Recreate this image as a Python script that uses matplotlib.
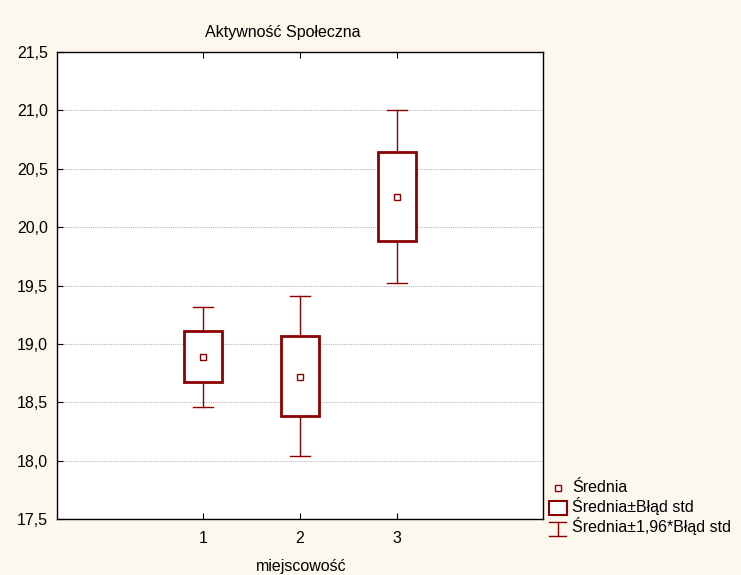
import matplotlib
matplotlib.use("Agg")
import matplotlib.pyplot as plt
from matplotlib.patches import Rectangle
from matplotlib.lines import Line2D
from matplotlib.legend_handler import HandlerBase

categories = ["1", "2", "3"]
means = [18.89, 18.72, 20.26]
se_low = [18.67, 18.38, 19.88]
se_high = [19.11, 19.07, 20.64]
ci_low = [18.46, 18.04, 19.52]
ci_high = [19.32, 19.41, 21.00]
yticks = [17.5, 18.0, 18.5, 19.0, 19.5, 20.0, 20.5, 21.0, 21.5]

RED = "#8b0000"
BG = "#fdf8ee"
FS = 11.5
plt.rcParams['font.family'] = ['Liberation Sans', 'DejaVu Sans']

fig = plt.figure(figsize=(7.41, 5.75), dpi=100, facecolor=BG)
ax = fig.add_axes([57/741, 1-519/575, (543-57)/741, (519-52)/575])
ax.set_facecolor("white")

xs = [1, 2, 3]
bw = 0.39
cap = 0.2
for x, m, sl, sh, cl, ch in zip(xs, means, se_low, se_high, ci_low, ci_high):
    ax.plot([x, x], [sh, ch], color=RED, lw=1.0, zorder=3)
    ax.plot([x, x], [cl, sl], color=RED, lw=1.0, zorder=3)
    ax.plot([x - cap/2, x + cap/2], [ch, ch], color=RED, lw=1.0, zorder=3)
    ax.plot([x - cap/2, x + cap/2], [cl, cl], color=RED, lw=1.0, zorder=3)
    ax.add_patch(Rectangle((x - bw/2, sl), bw, sh - sl, facecolor="white",
                           edgecolor=RED, lw=2.0, zorder=4))
    ax.plot([x], [m], marker="s", ms=5, mfc="white", mec=RED, mew=1.0, zorder=5, ls="none")

ax.set_xlim(-0.5, 4.5)
ax.set_ylim(17.5, 21.5)
ax.set_xticks(xs)
ax.set_xticklabels(categories)
ax.set_yticks(yticks)
ax.set_yticklabels([f"{v:.1f}".replace(".", ",") for v in yticks])
ax.tick_params(direction="in", top=True, right=False, length=4, labelsize=FS, width=0.8, pad=6.5)
ax.tick_params(axis="x", pad=8.5)
ax.yaxis.grid(True, color="#b8b8b8", ls=(0, (1, 1)), lw=0.8)
ax.set_axisbelow(True)
for s in ax.spines.values():
    s.set_linewidth(1.0)
    s.set_color("black")

fig.text(283/741, 1-32/575, "Aktywność Społeczna", ha="center", va="center", fontsize=FS)
fig.text(301/741, 1-566/575, "miejscowość", ha="center", va="center", fontsize=FS)


class MeanHandler(HandlerBase):
    def create_artists(self, legend, orig, xd, yd, w, h, fs, trans):
        return [Line2D([xd + w/2], [yd + h/2 - 1], marker="s", ms=5, mfc="white", mec=RED,
                       mew=1.0, ls="none", transform=trans)]


class BoxHandler(HandlerBase):
    def create_artists(self, legend, orig, xd, yd, w, h, fs, trans):
        r = Rectangle((xd + w/2 - 6.5, yd - 2), 13, h + 2, facecolor="white", edgecolor=RED,
                      lw=1.5, transform=trans)
        return [r]


class WhiskerHandler(HandlerBase):
    def create_artists(self, legend, orig, xd, yd, w, h, fs, trans):
        cx = xd + w/2
        y0, y1 = yd - 3, yd + h - 1
        l1 = Line2D([cx, cx], [y0, y1], color=RED, lw=1.0, transform=trans)
        l2 = Line2D([cx - 6, cx + 6], [y0, y0], color=RED, lw=1.0, transform=trans)
        l3 = Line2D([cx - 6, cx + 6], [y1, y1], color=RED, lw=1.0, transform=trans)
        return [l1, l2, l3]


h1 = Line2D([], [])
h2 = Rectangle((0, 0), 1, 1)
h3 = Line2D([], [], ls="--")
leg = fig.legend([h1, h2, h3], ["Średnia", "Średnia±Błąd std", "Średnia±1,96*Błąd std"],
                 handler_map={h1: MeanHandler(), h2: BoxHandler(), h3: WhiskerHandler()},
                 loc="upper left", bbox_to_anchor=(548/741, 1-480/575), frameon=False,
                 fontsize=FS, handlelength=1.2, handletextpad=0.3, labelspacing=0.12,
                 borderaxespad=0, borderpad=0)

fig.savefig("out.png", dpi=100, facecolor=BG)
